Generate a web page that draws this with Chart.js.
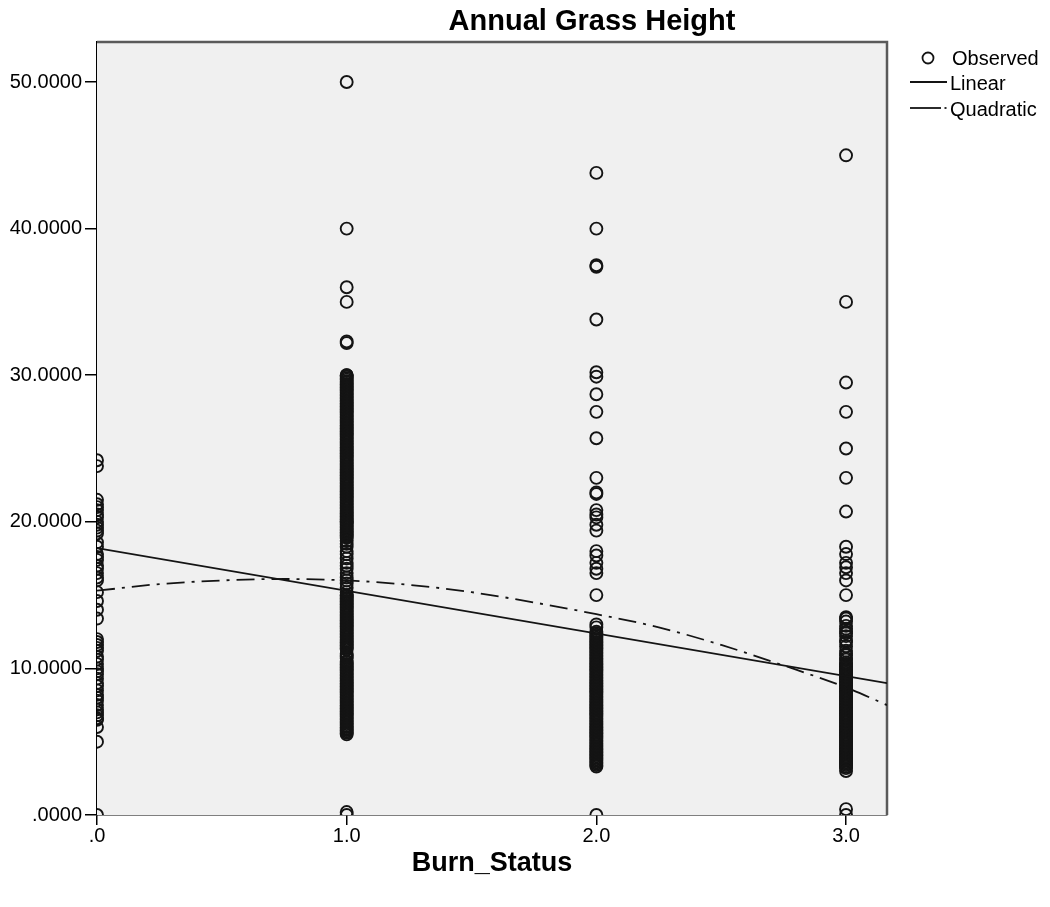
<!DOCTYPE html>
<html>
<head>
<meta charset="utf-8">
<script src="https://cdn.jsdelivr.net/npm/chart.js@4"></script>
<style>
  html, body { margin: 0; padding: 0; background: #ffffff; }
  #wrap { width: 1050px; height: 907px; }
</style>
</head>
<body>
<div id="wrap"><canvas id="c" width="1050" height="907"></canvas></div>
<script>
// ---- Data ----
const chartTitle = 'Annual Grass Height';
const xAxisTitle = 'Burn_Status';
const burnStatus = [0, 1, 2, 3];

const observed0 = [24.2, 23.8, 21.5, 21.2, 21.0, 20.8, 20.5, 20.3, 20.0, 19.8, 19.6, 19.4, 19.2, 18.6,
  18.3, 17.8, 17.6, 17.4, 17.0, 16.8, 16.5, 16.2, 16.0, 15.2, 14.6, 14.0, 13.4, 12.0, 11.8, 11.6,
  11.4, 11.2, 10.8, 10.6, 10.3, 10.0, 9.8, 9.6, 9.3, 9.0, 8.8, 8.5, 8.2, 8.0, 7.8, 7.5, 7.2, 7.0,
  6.8, 6.6, 6.5, 6.0, 5.0, 0.0];
const observed1 = [50.0, 40.0, 36.0, 35.0, 32.3, 32.2, 30.0, 30.0, 29.9, 29.8, 29.7, 29.6, 29.5, 29.4,
  29.3, 29.2, 29.1, 29.0, 28.9, 28.8, 28.7, 28.6, 28.5, 28.4, 28.3, 28.2, 28.1, 28.0, 27.9, 27.8,
  27.7, 27.6, 27.5, 27.4, 27.3, 27.2, 27.1, 27.0, 26.9, 26.8, 26.7, 26.6, 26.5, 26.4, 26.3, 26.2,
  26.1, 26.0, 25.9, 25.8, 25.7, 25.6, 25.5, 25.4, 25.3, 25.2, 25.1, 25.0, 24.9, 24.8, 24.7, 24.6,
  24.5, 24.4, 24.3, 24.2, 24.1, 24.0, 23.9, 23.8, 23.7, 23.6, 23.5, 23.4, 23.3, 23.2, 23.1, 23.0,
  22.9, 22.8, 22.7, 22.6, 22.5, 22.4, 22.3, 22.2, 22.1, 22.0, 21.9, 21.8, 21.7, 21.6, 21.5, 21.4,
  21.3, 21.2, 21.1, 21.0, 20.9, 20.8, 20.7, 20.6, 20.5, 20.4, 20.3, 20.2, 20.1, 20.0, 20.0, 19.9,
  19.8, 19.7, 19.6, 19.5, 19.4, 19.3, 19.2, 19.1, 19.0, 18.9, 18.7, 18.5, 18.3, 18.0, 17.8, 17.5,
  17.2, 17.0, 16.8, 16.5, 16.2, 16.0, 15.8, 15.5, 15.2, 15.0, 15.0, 14.9, 14.8, 14.7, 14.6, 14.5,
  14.4, 14.3, 14.2, 14.1, 14.0, 13.9, 13.8, 13.7, 13.6, 13.5, 13.4, 13.3, 13.2, 13.1, 13.0, 12.9,
  12.8, 12.7, 12.6, 12.5, 12.4, 12.3, 12.2, 12.1, 12.0, 11.9, 11.8, 11.7, 11.6, 11.5, 11.4, 11.3,
  11.0, 10.9, 10.8, 10.7, 10.5, 10.4, 10.3, 10.2, 10.1, 10.0, 9.9, 9.8, 9.7, 9.6, 9.5, 9.4, 9.3,
  9.2, 9.1, 9.0, 8.9, 8.8, 8.7, 8.6, 8.5, 8.4, 8.3, 8.2, 8.1, 8.0, 7.9, 7.8, 7.7, 7.6, 7.5, 7.4,
  7.3, 7.2, 7.1, 7.0, 6.9, 6.8, 6.7, 6.6, 6.5, 6.4, 6.3, 6.2, 6.1, 6.0, 5.9, 5.8, 5.7, 5.6, 5.5,
  0.2, 0.0];
const observed2 = [43.8, 40.0, 37.5, 37.4, 33.8, 30.2, 29.9, 28.7, 27.5, 25.7, 23.0, 22.0, 21.9, 20.8,
  20.5, 20.3, 19.8, 19.4, 18.0, 17.7, 17.2, 16.8, 16.5, 15.0, 13.0, 12.8, 12.5, 12.4, 12.3, 12.2,
  12.1, 12.0, 11.9, 11.8, 11.7, 11.6, 11.5, 11.4, 11.3, 11.2, 11.1, 11.0, 10.9, 10.8, 10.7, 10.6,
  10.5, 10.4, 10.3, 10.2, 10.1, 10.0, 9.9, 9.8, 9.7, 9.6, 9.5, 9.4, 9.3, 9.2, 9.1, 9.0, 8.9, 8.8,
  8.7, 8.6, 8.5, 8.4, 8.3, 8.2, 8.1, 8.0, 7.9, 7.8, 7.7, 7.6, 7.5, 7.4, 7.3, 7.2, 7.1, 7.0, 6.9,
  6.8, 6.7, 6.6, 6.5, 6.4, 6.3, 6.2, 6.1, 6.0, 5.9, 5.8, 5.7, 5.6, 5.5, 5.4, 5.3, 5.2, 5.1, 5.0,
  4.9, 4.8, 4.7, 4.6, 4.5, 4.4, 4.3, 4.2, 4.1, 4.0, 3.9, 3.8, 3.7, 3.6, 3.5, 3.4, 3.3, 0.0];
const observed3 = [45.0, 35.0, 29.5, 27.5, 25.0, 23.0, 20.7, 18.3, 17.8, 17.2, 16.9, 16.5, 16.0, 15.0,
  13.5, 13.4, 13.2, 12.9, 12.7, 12.5, 12.4, 12.2, 11.9, 11.8, 11.5, 11.2, 11.0, 10.9, 10.7, 10.6,
  10.4, 10.3, 10.2, 10.1, 10.0, 9.9, 9.8, 9.7, 9.6, 9.5, 9.4, 9.3, 9.2, 9.1, 9.0, 8.9, 8.8, 8.7,
  8.6, 8.5, 8.4, 8.3, 8.2, 8.1, 8.0, 7.9, 7.8, 7.7, 7.6, 7.5, 7.4, 7.3, 7.2, 7.1, 7.0, 6.9, 6.8,
  6.7, 6.6, 6.5, 6.4, 6.3, 6.2, 6.1, 6.0, 5.9, 5.8, 5.7, 5.6, 5.5, 5.4, 5.3, 5.2, 5.1, 5.0, 4.9,
  4.8, 4.7, 4.6, 4.5, 4.4, 4.3, 4.2, 4.1, 4.0, 3.9, 3.8, 3.7, 3.6, 3.5, 3.4, 3.3, 3.2, 3.0, 0.4,
  0.0];

// Fit lines
const linearX = [0, 3.164];
const linearY = [18.2, 9.0];
const quadX = [0, 0.25, 0.5, 0.75, 1.0, 1.25, 1.5, 1.75, 2.0, 2.25, 2.5, 2.75, 3.0, 3.164];
const quadY = [15.3, 15.75, 16.0, 16.1, 16.0, 15.7, 15.2, 14.5, 13.7, 12.8, 11.6, 10.2, 8.7, 7.5];

// Axis ticks
const xTickValues = [0, 1, 2, 3];
const xTickLabels = ['.0', '1.0', '2.0', '3.0'];
const yTickValues = [0, 10, 20, 30, 40, 50];
const yTickLabels = ['.0000', '10.0000', '20.0000', '30.0000', '40.0000', '50.0000'];
const xRange = [0, 3.164];
const yRange = [0, 52.73];

const legendLabels = ['Observed', 'Linear', 'Quadratic'];

// ---- Build library data ----
const observedColumns = [observed0, observed1, observed2, observed3];
const observedPoints = [];
observedColumns.forEach((col, i) => col.forEach(v => observedPoints.push({ x: burnStatus[i], y: v })));
const linearPoints = linearX.map((x, i) => ({ x: x, y: linearY[i] }));
const quadPoints = quadX.map((x, i) => ({ x: x, y: quadY[i] }));

const FONT = "'Liberation Sans', Arial, sans-serif";
const INK = '#141414';

const framePlugin = {
  id: 'frame',
  beforeDatasetsDraw(chart) {
    const { ctx, chartArea: a } = chart;
    ctx.save();
    ctx.fillStyle = '#f0f0f0';
    ctx.fillRect(a.left, a.top, a.right - a.left, a.bottom - a.top);
    ctx.strokeStyle = '#5a5a5a';
    ctx.lineWidth = 2.5;
    ctx.beginPath();
    ctx.moveTo(a.left, a.top);
    ctx.lineTo(a.right, a.top);
    ctx.lineTo(a.right, a.bottom);
    ctx.stroke();
    ctx.restore();
  },
  afterDraw(chart) {
    const { ctx } = chart;
    ctx.save();
    // title
    ctx.fillStyle = '#000';
    ctx.font = 'bold 29px ' + FONT;
    ctx.textAlign = 'center';
    ctx.textBaseline = 'alphabetic';
    ctx.fillText(chartTitle, 592, 30);
    // legend
    ctx.font = '20px ' + FONT;
    ctx.textAlign = 'left';
    ctx.textBaseline = 'middle';
    ctx.strokeStyle = INK;
    ctx.lineWidth = 1.8;
    ctx.beginPath();
    ctx.arc(928, 58, 5.5, 0, Math.PI * 2);
    ctx.stroke();
    ctx.fillText(legendLabels[0], 952, 59);
    ctx.lineWidth = 1.8;
    ctx.beginPath();
    ctx.moveTo(910, 82);
    ctx.lineTo(947, 82);
    ctx.stroke();
    ctx.fillText(legendLabels[1], 950, 84);
    ctx.beginPath();
    ctx.moveTo(910, 108);
    ctx.lineTo(941, 108);
    ctx.stroke();
    ctx.beginPath();
    ctx.moveTo(944.5, 108);
    ctx.lineTo(946.5, 108);
    ctx.stroke();
    ctx.fillText(legendLabels[2], 950, 110);
    ctx.restore();
  }
};

new Chart(document.getElementById('c'), {
  type: 'scatter',
  data: {
    datasets: [
      {
        label: legendLabels[1],
        type: 'line',
        data: linearPoints,
        borderColor: INK,
        borderWidth: 1.8,
        pointRadius: 0,
        fill: false,
        order: 0
      },
      {
        label: legendLabels[2],
        type: 'line',
        data: quadPoints,
        borderColor: INK,
        borderWidth: 1.8,
        borderDash: [18, 7, 3, 7],
        pointRadius: 0,
        cubicInterpolationMode: 'monotone',
        fill: false,
        order: 0
      },
      {
        label: legendLabels[0],
        data: observedPoints,
        showLine: false,
        pointStyle: 'circle',
        pointRadius: 6,
        pointHoverRadius: 6,
        pointBorderWidth: 1.9,
        borderColor: INK,
        backgroundColor: 'rgba(0,0,0,0)',
        order: 1
      }
    ]
  },
  options: {
    responsive: false,
    animation: false,
    devicePixelRatio: 1,
    layout: { padding: { left: 0, top: 42, right: 163, bottom: 0 } },
    plugins: {
      legend: { display: false },
      title: { display: false },
      tooltip: { enabled: false }
    },
    scales: {
      x: {
        type: 'linear',
        min: xRange[0],
        max: xRange[1],
        afterFit(scale) { scale.height = 92; },
        afterBuildTicks(scale) { scale.ticks = xTickValues.map(v => ({ value: v })); },
        ticks: {
          color: '#000',
          font: { family: FONT, size: 20 },
          padding: -1,
          maxRotation: 0,
          autoSkip: false,
          callback: (v, i) => xTickLabels[i]
        },
        grid: { drawOnChartArea: false, drawTicks: true, tickLength: 10, color: '#000', lineWidth: 1.5 },
        border: { display: true, color: '#000', width: 1.5 },
        title: {
          display: true,
          text: xAxisTitle,
          color: '#000',
          font: { family: FONT, size: 27, weight: 'bold' },
          padding: { top: 0, bottom: 27 }
        }
      },
      y: {
        type: 'linear',
        min: yRange[0],
        max: yRange[1],
        afterFit(scale) { scale.width = 97; },
        afterBuildTicks(scale) { scale.ticks = yTickValues.map(v => ({ value: v })); },
        ticks: {
          color: '#000',
          font: { family: FONT, size: 20 },
          padding: 3,
          autoSkip: false,
          callback: (v, i) => yTickLabels[i]
        },
        grid: { drawOnChartArea: false, drawTicks: true, tickLength: 12, color: '#000', lineWidth: 1.5 },
        border: { display: true, color: '#000', width: 1.5 }
      }
    }
  },
  plugins: [framePlugin]
});
</script>
</body>
</html>
